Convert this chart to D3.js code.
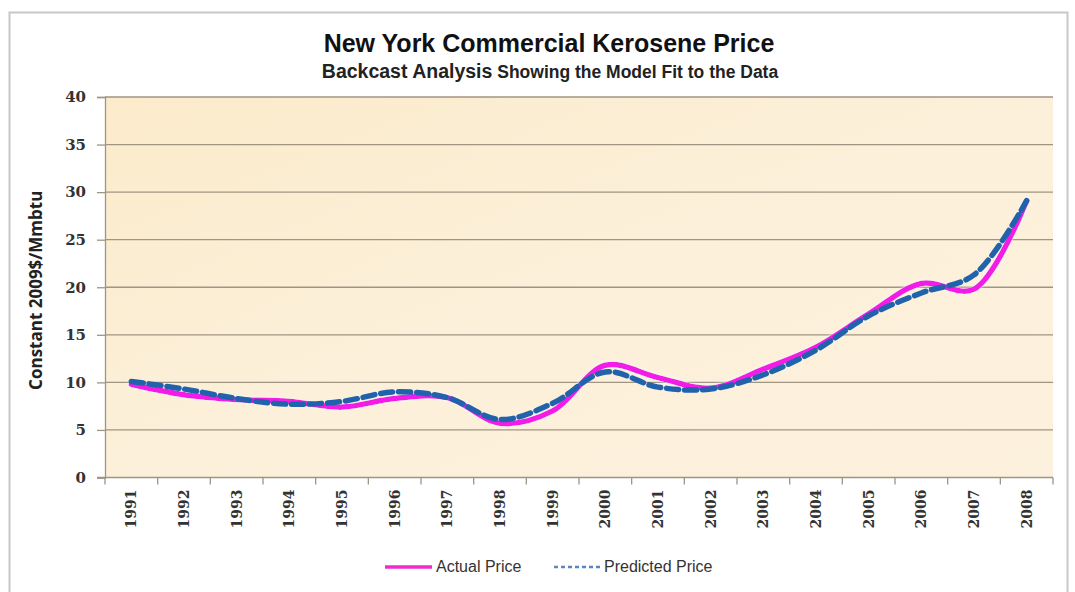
<!DOCTYPE html>
<html>
<head>
<meta charset="utf-8">
<script src="https://cdn.jsdelivr.net/npm/d3@7"></script>
<style>
  html, body { margin: 0; padding: 0; background: #ffffff; }
  svg { display: block; }
</style>
</head>
<body>
<svg id="chart" width="1075" height="592"></svg>
<script>
// ---- data ----
const years = ["1991","1992","1993","1994","1995","1996","1997","1998","1999","2000","2001","2002","2003","2004","2005","2006","2007","2008"];
const actualPrice    = [9.8, 8.7, 8.2, 8.0, 7.4, 8.3, 8.4, 5.7, 7.0, 11.8, 10.5, 9.4, 11.4, 13.7, 17.2, 20.4, 19.8, 29.1];
const predictedPrice = [10.1, 9.3, 8.3, 7.7, 8.0, 9.0, 8.4, 6.1, 7.8, 11.1, 9.5, 9.3, 10.8, 13.4, 17.0, 19.4, 21.3, 29.1];
const yTicks = [0, 5, 10, 15, 20, 25, 30, 35, 40];
const titleText = "New York Commercial Kerosene Price";
const subtitleA = "Backcast Analysis";
const subtitleB = " Showing the Model Fit to the Data";
const yLabel = "Constant 2009$/Mmbtu";
const legendNames = ["Actual Price", "Predicted Price"];

// ---- layout ----
const svg = d3.select("#chart");
const plot = { left: 105, right: 1053, top: 97, bottom: 477.5 };

const x = d3.scaleBand().domain(years).range([plot.left, plot.right]).padding(0);
const y = d3.scaleLinear().domain([0, 40]).range([plot.bottom, plot.top]);

const defs = svg.append("defs");
const grad = defs.append("linearGradient").attr("id", "parch")
  .attr("x1", "0").attr("y1", "0").attr("x2", "1").attr("y2", "1");
grad.append("stop").attr("offset", "0").attr("stop-color", "#fbebcb");
grad.append("stop").attr("offset", "0.5").attr("stop-color", "#fcf0da");
grad.append("stop").attr("offset", "1").attr("stop-color", "#fcf1de");

const glow = defs.append("filter").attr("id", "glow").attr("x", "-5%").attr("y", "-20%").attr("width", "110%").attr("height", "140%");
glow.append("feGaussianBlur").attr("in", "SourceAlpha").attr("stdDeviation", 1.5).attr("result", "b");
glow.append("feFlood").attr("flood-color", "#e8ffff").attr("flood-opacity", 0.9);
glow.append("feComposite").attr("in2", "b").attr("operator", "in").attr("result", "g");
const fm = glow.append("feMerge");
fm.append("feMergeNode").attr("in", "g");
fm.append("feMergeNode").attr("in", "SourceGraphic");

// chart frame
svg.append("rect").attr("x", 9.5).attr("y", 12.5).attr("width", 1058).attr("height", 590)
  .attr("fill", "#ffffff").attr("stroke", "#c8c8c8").attr("stroke-width", 2);

// plot background
svg.append("rect")
  .attr("x", plot.left).attr("y", plot.top)
  .attr("width", plot.right - plot.left).attr("height", plot.bottom - plot.top)
  .attr("fill", "url(#parch)");

// gridlines
svg.append("g").selectAll("line").data(yTicks.filter(d => d > 0)).join("line")
  .attr("x1", plot.left).attr("x2", plot.right)
  .attr("y1", d => y(d)).attr("y2", d => y(d))
  .attr("stroke", "#a09483").attr("stroke-width", 1.3);

// y axis
const yAxis = svg.append("g").attr("transform", `translate(${plot.left},0)`)
  .call(d3.axisLeft(y).tickValues(yTicks).tickSize(8).tickPadding(11));
yAxis.select(".domain").attr("stroke", "#a09483").attr("stroke-width", 1.3);
yAxis.selectAll(".tick line").attr("stroke", "#a09483").attr("stroke-width", 1.3);
yAxis.selectAll(".tick text")
  .attr("font-family", "'DejaVu Serif', serif").attr("font-weight", "bold")
  .attr("font-size", 15).attr("fill", "#333333");

// x axis: baseline + ticks at band boundaries
svg.append("line").attr("x1", plot.left - 8).attr("x2", plot.right)
  .attr("y1", plot.bottom).attr("y2", plot.bottom)
  .attr("stroke", "#a09483").attr("stroke-width", 1.3);
const edges = years.map(d => x(d)).concat([x(years[years.length - 1]) + x.bandwidth()]);
svg.append("g").selectAll("line").data(edges).join("line")
  .attr("x1", d => d).attr("x2", d => d)
  .attr("y1", plot.bottom).attr("y2", plot.bottom + 7)
  .attr("stroke", "#a09483").attr("stroke-width", 1.3);
svg.append("g").selectAll("text").data(years).join("text")
  .attr("transform", d => `translate(${x(d) + x.bandwidth() / 2 + 5},${plot.bottom + 12}) rotate(-90)`)
  .attr("text-anchor", "end")
  .attr("font-family", "'DejaVu Serif', serif").attr("font-weight", "bold")
  .attr("font-size", 14).attr("fill", "#333333")
  .text(d => d);

// lines
const line = (vals) => d3.line()
  .x((d, i) => x(years[i]) + x.bandwidth() / 2)
  .y(d => y(d))
  .curve(d3.curveCatmullRom.alpha(0.5))(vals);

svg.append("path").attr("d", line(actualPrice))
  .attr("fill", "none").attr("stroke", "#f21ee6").attr("stroke-width", 5.5)
  .attr("stroke-linecap", "round").attr("filter", "url(#glow)");
svg.append("path").attr("d", line(predictedPrice))
  .attr("fill", "none").attr("stroke", "#2162ad").attr("stroke-width", 5.5)
  .attr("stroke-dasharray", "12,6").attr("stroke-linecap", "round");

// titles
svg.append("text").attr("x", 549).attr("y", 52).attr("text-anchor", "middle")
  .attr("font-family", "'Liberation Sans', Arial, sans-serif")
  .attr("font-weight", "bold").attr("font-size", 25).attr("fill", "#111111")
  .text(titleText);
const sub = svg.append("text").attr("x", 550).attr("y", 78).attr("text-anchor", "middle")
  .attr("font-family", "'Liberation Sans', Arial, sans-serif")
  .attr("font-weight", "bold").attr("fill", "#222222");
sub.append("tspan").attr("font-size", 19.5).text(subtitleA);
sub.append("tspan").attr("font-size", 17.5).text(subtitleB);

// y label
svg.append("text").attr("transform", `translate(42,${(plot.top + plot.bottom) / 2 + 3}) rotate(-90)`)
  .attr("text-anchor", "middle")
  .attr("font-family", "'Open Sans', 'DejaVu Sans', sans-serif")
  .attr("font-weight", "bold").attr("font-size", 17).attr("fill", "#222222")
  .text(yLabel);

// legend
const lg = svg.append("g");
lg.append("line").attr("x1", 385).attr("x2", 432).attr("y1", 567).attr("y2", 567)
  .attr("stroke", "#ee2ccf").attr("stroke-width", 3.5);
lg.append("text").attr("x", 436).attr("y", 572)
  .attr("font-family", "'Liberation Sans', sans-serif")
  .attr("font-size", 16).attr("fill", "#333333").text(legendNames[0]);
lg.append("line").attr("x1", 554).attr("x2", 600).attr("y1", 567).attr("y2", 567)
  .attr("stroke", "#5a86c0").attr("stroke-width", 2.5).attr("stroke-dasharray", "4,3");
lg.append("text").attr("x", 604).attr("y", 572)
  .attr("font-family", "'Liberation Sans', sans-serif")
  .attr("font-size", 16).attr("fill", "#333333").text(legendNames[1]);
</script>
</body>
</html>
